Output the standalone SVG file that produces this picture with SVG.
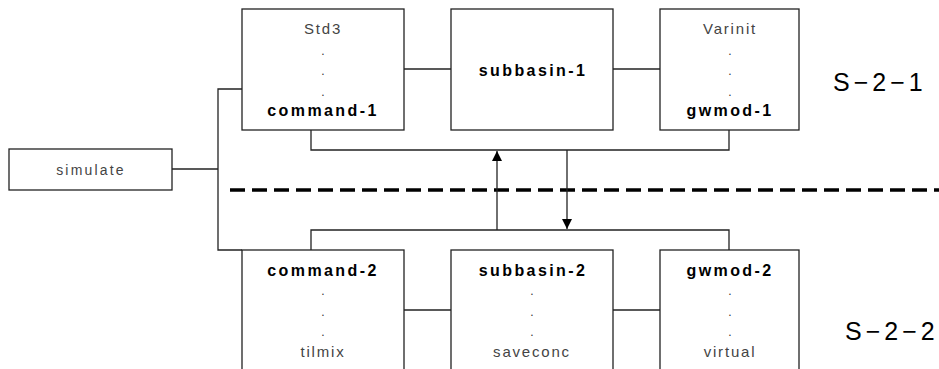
<svg xmlns="http://www.w3.org/2000/svg" width="939" height="369" viewBox="0 0 939 369">
  <style>
    .box { fill: #fff; stroke: #222; stroke-width: 1.3; }
    .wire { fill: none; stroke: #222; stroke-width: 1.3; }
    .thin { font-family: "Liberation Sans", Arial, sans-serif; font-size: 15px; fill: #444; letter-spacing: 1.8px; text-anchor: middle; }
    .bold { font-family: "Liberation Sans", Arial, sans-serif; font-size: 16px; font-weight: bold; fill: #000; letter-spacing: 2.4px; text-anchor: middle; }
    .dot { font-family: "Liberation Sans", Arial, sans-serif; font-size: 12px; fill: #333; text-anchor: middle; }
    .tag { font-family: "Liberation Sans", Arial, sans-serif; font-size: 25px; fill: #000; letter-spacing: 4px; }
  </style>
  <defs>
    <marker id="tip" viewBox="0 0 10 10" refX="10" refY="5" markerWidth="10" markerHeight="10" markerUnits="userSpaceOnUse" orient="auto">
      <path d="M0,0 L10,5 L0,10 Z" fill="#000"/>
    </marker>
  </defs>

  <!-- separator between the two groups -->
  <line x1="230" y1="190" x2="939" y2="190" stroke="#000" stroke-width="3.4" stroke-dasharray="15 7"/>

  <g id="connectors">
    <!-- simulate fans out to both groups -->
    <path class="wire" d="M172,169 H218"/>
    <path class="wire" d="M242,89 H218 V250 H242"/>
    <!-- upper row links -->
    <path class="wire" d="M404,69 H451"/>
    <path class="wire" d="M613,69 H660"/>
    <path class="wire" d="M311,130 V150 H729 V130"/>
    <!-- lower row links -->
    <path class="wire" d="M404,310 H451"/>
    <path class="wire" d="M613,310 H660"/>
    <path class="wire" d="M311,250 V230 H729 V250"/>
    <!-- exchange between groups -->
    <line class="wire" x1="497" y1="230" x2="497" y2="151" marker-end="url(#tip)"/>
    <line class="wire" x1="567" y1="150" x2="567" y2="229" marker-end="url(#tip)"/>
  </g>

  <g id="simulate">
    <rect class="box" x="9" y="149" width="163" height="41"/>
    <text class="thin" x="91" y="175" style="font-size:14px;letter-spacing:2.2px">simulate</text>
  </g>

  <g id="command-1">
    <rect class="box" x="242" y="9" width="162" height="121"/>
    <text class="thin" x="323" y="34">Std3</text>
    <text class="dot" x="323" y="55">.</text>
    <text class="dot" x="323" y="75">.</text>
    <text class="dot" x="323" y="96">.</text>
    <text class="bold" x="323" y="116">command-1</text>
  </g>

  <g id="subbasin-1">
    <rect class="box" x="451" y="9" width="162" height="121"/>
    <text class="bold" x="533" y="76">subbasin-1</text>
  </g>

  <g id="gwmod-1">
    <rect class="box" x="660" y="9" width="139" height="121"/>
    <text class="thin" x="730" y="34">Varinit</text>
    <text class="dot" x="730" y="55">.</text>
    <text class="dot" x="730" y="75">.</text>
    <text class="dot" x="730" y="96">.</text>
    <text class="bold" x="730" y="116">gwmod-1</text>
  </g>

  <g id="command-2">
    <rect class="box" x="242" y="250" width="162" height="130"/>
    <text class="bold" x="323" y="276">command-2</text>
    <text class="dot" x="323" y="295">.</text>
    <text class="dot" x="323" y="316">.</text>
    <text class="dot" x="323" y="336">.</text>
    <text class="thin" x="323" y="357">tilmix</text>
  </g>

  <g id="subbasin-2">
    <rect class="box" x="451" y="250" width="162" height="130"/>
    <text class="bold" x="533" y="276">subbasin-2</text>
    <text class="dot" x="532" y="295">.</text>
    <text class="dot" x="532" y="316">.</text>
    <text class="dot" x="532" y="336">.</text>
    <text class="thin" x="532" y="357">saveconc</text>
  </g>

  <g id="gwmod-2">
    <rect class="box" x="660" y="250" width="139" height="130"/>
    <text class="bold" x="730" y="276">gwmod-2</text>
    <text class="dot" x="730" y="295">.</text>
    <text class="dot" x="730" y="316">.</text>
    <text class="dot" x="730" y="336">.</text>
    <text class="thin" x="730" y="357">virtual</text>
  </g>

  <text class="tag" x="833" y="91">S−2−1</text>
  <text class="tag" x="845" y="340">S−2−2</text>
</svg>
